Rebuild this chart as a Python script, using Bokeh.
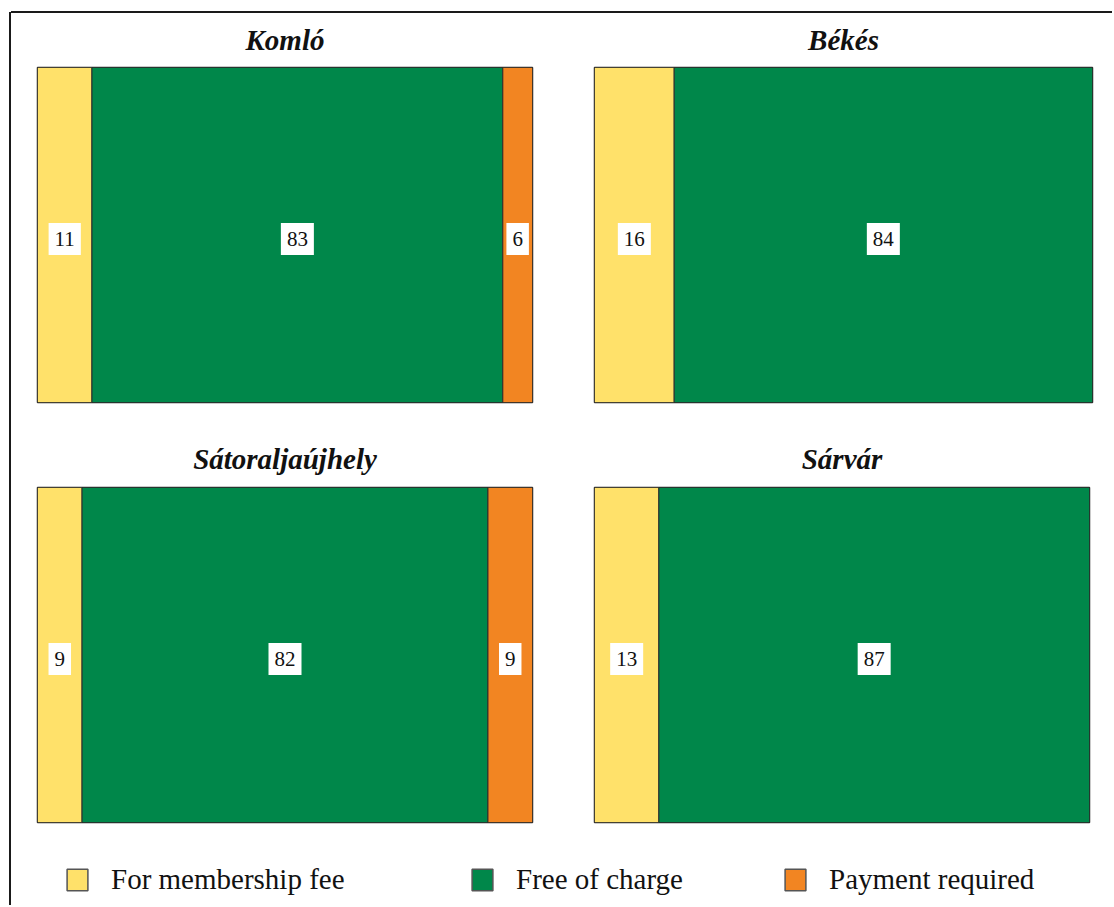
import numpy as np
from bokeh.plotting import figure
from bokeh.layouts import row, column
from bokeh.models import Div, Legend, LegendItem, ColumnDataSource, Range1d
from bokeh.core.properties import value
from bokeh.embed import file_html
from bokeh.resources import INLINE

# ---- data ----
cities = ["Komló", "Békés", "Sátoraljaújhely", "Sárvár"]
categories = ["For membership fee", "Free of charge", "Payment required"]
membership_fee = [11, 16, 9, 13]
free_of_charge = [83, 84, 82, 87]
payment_required = [6, 0, 9, 0]

colors = ["#FFE16A", "#00874A", "#F28522"]
SERIF = "Liberation Serif"
LINE = "#2b2b2b"


def panel(idx, b_left, frame_w, b_right, b_top, frame_h, b_bottom, standoff):
    vals = np.array([membership_fee[idx], free_of_charge[idx], payment_required[idx]], dtype=float)
    right = np.cumsum(vals)
    left = right - vals
    keep = vals > 0
    n = int(keep.sum())
    src = ColumnDataSource(dict(
        left=left[keep], right=right[keep],
        bottom=[0] * n, top=[1] * n,
        color=[c for c, k in zip(colors, keep) if k],
        mid=((left + right) / 2)[keep],
        y=[0.5] * n,
        label=[str(int(v)) for v in vals[keep]],
    ))
    p = figure(width=b_left + frame_w + b_right, height=b_top + frame_h + b_bottom,
               x_range=Range1d(0, 100), y_range=Range1d(0, 1),
               output_backend="svg", toolbar_location=None,
               x_axis_type=None, y_axis_type=None,
               min_border_left=b_left, min_border_right=b_right,
               min_border_top=b_top, min_border_bottom=b_bottom,
               title=cities[idx])
    p.grid.visible = False
    p.outline_line_color = LINE
    p.outline_line_width = 1.5
    p.background_fill_color = "white"
    p.border_fill_color = "white"
    p.title.align = "center"
    p.title.vertical_align = "top"
    p.title.text_font = SERIF
    p.title.text_font_style = "bold italic"
    p.title.text_font_size = "29px"
    p.title.text_color = "#111111"
    p.title.standoff = standoff
    p.quad(left="left", right="right", bottom="bottom", top="top", source=src,
           fill_color="color", line_color=LINE, line_width=1)
    p.text(x="mid", y="y", text="label", source=src,
           text_align="center", text_baseline="middle", y_offset=4,
           text_font=value(SERIF), text_font_size="21px", text_color="#111111",
           background_fill_color="white",
           padding=dict(left=6, right=6, top=9, bottom=9))
    return p


f1 = panel(0, 26, 495, 31, 54, 335, 19, 19)
f2 = panel(1, 31, 498, 20, 54, 335, 19, 19)
f3 = panel(2, 26, 495, 31, 66, 335, 10, 22)
f4 = panel(3, 31, 495, 23, 66, 335, 10, 22)

# ---- legend strip ----
lg = figure(width=1101, height=73, x_range=Range1d(0, 1), y_range=Range1d(0, 1),
            output_backend="svg", toolbar_location=None,
            x_axis_type=None, y_axis_type=None,
            min_border_left=0, min_border_right=0, min_border_top=0, min_border_bottom=0)
lg.grid.visible = False
lg.outline_line_color = None
lg.border_fill_color = "white"
legend_x = [53, 458, 771]
for name, col, lx in zip(categories, colors, legend_x):
    r = lg.quad(left=[np.nan], right=[np.nan], top=[np.nan], bottom=[np.nan],
                fill_color=col, line_color="#555555", line_width=1.5)
    leg = Legend(items=[LegendItem(label=name, renderers=[r])], location=(lx, 9),
                 glyph_width=26, glyph_height=27, label_standoff=21,
                 label_text_font=SERIF, label_text_font_size="29px", label_text_color="#111111",
                 padding=0, margin=0, border_line_color=None, background_fill_alpha=0)
    lg.add_layout(leg, "center")

left_line = Div(text="", width=2, height=893, margin=(12, 0, 0, 9),
                styles={"background-color": "#1a1a1a"})
top_line = Div(text="", width=1101, height=2, margin=(11, 0, 0, 0),
               styles={"background-color": "#1a1a1a"})

layout = row(left_line, column(top_line, row(f1, f2), row(f3, f4), lg))

open("out.html", "w").write(file_html(layout, INLINE))
